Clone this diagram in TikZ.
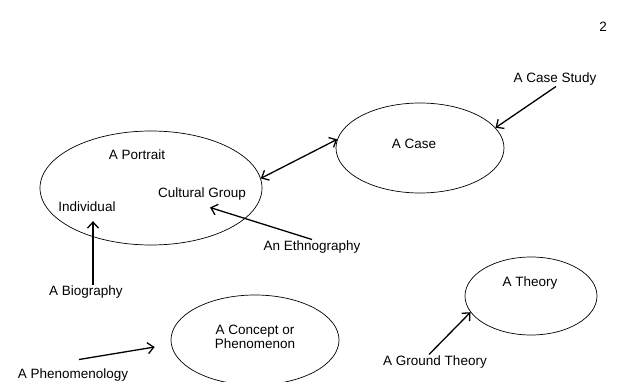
\documentclass[tikz,border=0pt]{standalone}
\usepackage{fontspec}
\setmainfont{Liberation Sans}
\usetikzlibrary{shapes.geometric,arrows.meta}

\begin{document}
\begin{tikzpicture}[x=1pt,y=-1pt,
    tip/.tip={Straight Barb[length=6pt,width=11pt,line width=1.3pt]},
    oval/.style={draw,ellipse,line width=.7pt,inner sep=0pt},
    arr/.style={line width=1.3pt,-tip},
    lab/.style={font=\fontsize{13.5}{14.5}\selectfont,inner sep=1pt,align=center}]
    \useasboundingbox (0,0) rectangle (621,382);
    % the four ellipses
    \node[oval,minimum width=222,minimum height=114] (portrait) at (151,188) {};
    \node[oval,minimum width=168,minimum height=90] (case) at (420,148) {};
    \node[oval,minimum width=168,minimum height=90] (concept) at (255,340) {};
    \node[oval,minimum width=132,minimum height=78] (theory) at (531,296) {};
    % texts
    \path[nodes=lab]
        (603,27) node (pagenum) {2}
        (137,155) node (portraitlab) {A Portrait}
        (202,194) node (cultural) {Cultural Group}
        (87,207) node (individual) {Individual}
        (414,144) node (caselab) {A Case}
        (255,337) node (conceptlab) {A Concept or\\Phenomenon}
        (530,283) node (theorylab) {A Theory}
        (555,79) node (study) {A Case Study}
        (312,247) node (ethno) {An Ethnography}
        (86,292) node (bio) {A Biography}
        (435,362) node (ground) {A Ground Theory}
        (73,375) node (phenom) {A Phenomenology};
    % connectors
    \draw[arr] ([xshift=1]study.south) -- (case.15);
    \draw[arr,tip-tip] (portrait.5) -- (case.174);
    \draw[arr] (ethno.north) -- ([xshift=8,yshift=-6]cultural.south);
    \draw[arr] ([xshift=7]bio.north) -- ([xshift=6,yshift=-8]individual.south);
    \draw[arr] ([xshift=-6]ground.north) -- (theory.195);
    \draw[arr] ([shift={(6,-8)}]phenom.north) -- ([shift={(-16,7)}]concept.west);
\end{tikzpicture}
\end{document}
